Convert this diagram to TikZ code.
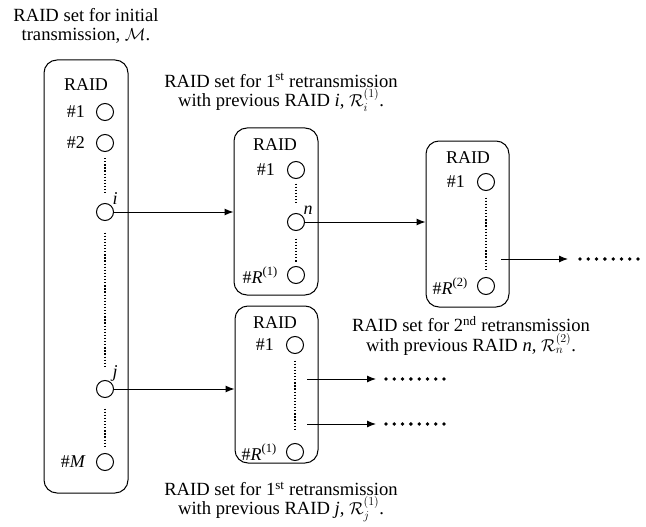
\documentclass[tikz,border=0pt]{standalone}
\usepackage{amsmath,amssymb}
\usepackage{fontspec}
\setmainfont{Liberation Serif}
\usetikzlibrary{positioning,arrows.meta}

\newcommand{\upidx}[1]{\raisebox{0.42em}{\fontsize{12.5}{12.5}\selectfont #1}}

\begin{document}
\begin{tikzpicture}[x=1pt,y=-1pt,
  setbox/.style={rectangle, draw, rounded corners=13pt, line width=1pt,
                 minimum width=84pt},
  raid/.style={circle, draw, line width=1pt, minimum size=17pt,
               inner sep=0pt},
  idx/.style={font=\fontsize{18}{21}\selectfont, inner sep=0pt},
  hdr/.style={font=\fontsize{18}{21}\selectfont, inner sep=0pt},
  txt/.style={font=\fontsize{18.6}{19.5}\selectfont, align=center,
              inner sep=0pt},
  lbl/.style={font=\fontsize{18}{21}\selectfont, inner sep=1pt},
  arr/.style={-{Latex[length=9pt,width=7pt]}, line width=1pt},
  vdots/.style={line width=1.3pt, dash pattern=on 1.3pt off 1.8pt},
  moredots/.style={line width=3.8pt, line cap=round,
                   dash pattern=on 0pt off 8.29pt}
]
\useasboundingbox (0,0) rectangle (646,527);

% set boxes
\node[setbox, minimum height=433pt] (setM)  at (86,276.5)  {};
\node[setbox, minimum height=167pt] (setRi) at (276,211.5) {};
\node[setbox, minimum height=166pt, minimum width=83pt]
                                    (setRn) at (467.5,224) {};
\node[setbox, minimum height=157pt, minimum width=83pt]
                                    (setRj) at (276.5,384.5) {};

\node[hdr] (hM)  at (86,85)    {RAID};
\node[hdr] (hRi) at (275,145)  {RAID};
\node[hdr] (hRn) at (468,158)  {RAID};
\node[hdr] (hRj) at (275,323)  {RAID};

% initial set
\node[raid] (m1) at (105,112) {};
\node[raid] (m2) at (105,143) {};
\node[raid, label={[lbl]45:\textit{i}}] (mi) at (105,212) {};
\node[raid, label={[lbl]45:\textit{j}}] (mj) at (105,389) {};
\node[raid] (mM) at (105,462) {};
\node[idx, left=11pt of m1] {\#1};
\node[idx, left=11pt of m2] {\#2};
\node[idx, left=10pt of mM] {\#\textit{M}};
\draw[vdots, shorten <=6pt, shorten >=8.5pt]  (m2) -- (mi);
\draw[vdots, shorten <=11.5pt, shorten >=13.5pt] (mi) -- (mj);
\draw[vdots, shorten <=10.5pt, shorten >=6.5pt] (mj) -- (mM);

% 1st retransmission, previous i
\node[raid] (ri1) at (296,170) {};
\node[raid, label={[lbl]45:\textit{n}}] (rin) at (296,222) {};
\node[raid] (riR) at (296,275) {};
\node[idx, left=12pt of ri1] {\#1};
\node[idx, left=9.5pt of riR] {\#\textit{R}\upidx{(1)}};
\draw[vdots, shorten <=4.5pt, shorten >=8.5pt] (ri1) -- (rin);
\draw[vdots, shorten <=7.5pt, shorten >=3.5pt] (rin) -- (riR);

% 2nd retransmission, previous n
\node[raid] (rn1) at (486,182) {};
\node[raid] (rnR) at (486,286) {};
\node[idx, left=12pt of rn1] {\#1};
\node[idx, left=9.5pt of rnR] {\#\textit{R}\upidx{(2)}};
\draw[vdots, shorten <=6.5pt, shorten >=7.5pt] (rn1) -- (rnR);

% 1st retransmission, previous j
\node[raid] (rj1) at (295,345) {};
\node[raid] (rjR) at (295,452) {};
\node[idx, left=12pt of rj1] {\#1};
\node[idx, left=9.5pt of rjR] {\#\textit{R}\upidx{(1)}};
\draw[vdots, shorten <=6.5pt, shorten >=13.5pt] (rj1) -- (rjR);

% connectors
\draw[arr] (mi.east) -- (mi.east -| setRi.west);
\draw[arr] (rin.east) -- (rin.east -| setRn.west);
\draw[arr] (mj.east) -- (mj.east -| setRj.west);

\coordinate (oRn)  at (501,259);
\coordinate (tRn)  at (568,259);
\coordinate (oRj1) at (307,379);
\coordinate (tRj1) at (376,379);
\coordinate (oRj2) at (307,424);
\coordinate (tRj2) at (376,424);
\draw[arr] (oRn)  -- (tRn);
\draw[arr] (oRj1) -- (tRj1);
\draw[arr] (oRj2) -- (tRj2);
\draw[moredots] (580,259) -- (638.1,259);
\draw[moredots] (386,379) -- (444.1,379);
\draw[moredots] (386,424) -- (444.1,424);

% captions
\node[txt] (capM)  at (86,26)
  {RAID set for initial\\transmission, $\mathcal{M}$.};
\node[txt] (capRi) at (281,92.5)
  {RAID set for 1\textsuperscript{st} retransmission\\
   with previous RAID \textit{i}, $\mathcal{R}_i^{(1)}$.};
\node[txt] (capRn) at (471,336)
  {RAID set for 2\textsuperscript{nd} retransmission\\
   with previous RAID \textit{n}, $\mathcal{R}_n^{(2)}$.};
\node[txt] (capRj) at (281,502)
  {RAID set for 1\textsuperscript{st} retransmission\\
   with previous RAID \textit{j}, $\mathcal{R}_j^{(1)}$.};
\end{tikzpicture}
\end{document}
